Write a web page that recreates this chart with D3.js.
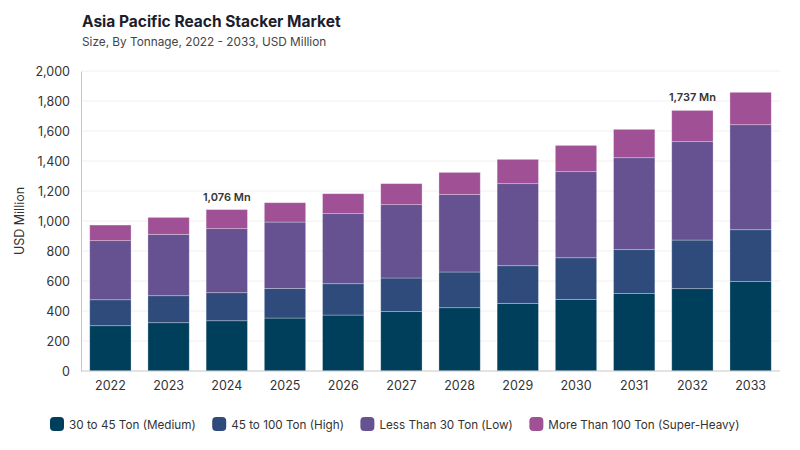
<!DOCTYPE html>
<html>
<head>
<meta charset="utf-8">
<script src="https://cdn.jsdelivr.net/npm/d3@7"></script>
<style>
	body { margin: 0; background: #fff; font-family: Inter, "Noto Sans", sans-serif; }
	svg text { font-family: Inter, "Noto Sans", sans-serif; }
</style>
</head>
<body>
<script>
const annees = ["2022", "2023", "2024", "2025", "2026", "2027", "2028", "2029", "2030", "2031", "2032", "2033"];
const series = ["30 to 45 Ton (Medium)", "45 to 100 Ton (High)", "Less Than 30 Ton (Low)", "More Than 100 Ton (Super-Heavy)"];
const medium = [302, 322, 335, 353, 373, 396, 422, 451, 476, 516, 549, 596];
const high = [173, 180, 187, 198, 209, 224, 238, 251, 279, 293, 324, 346];
const low = [394, 409, 427, 442, 467, 489, 516, 547, 574, 613, 656, 700];
const superHeavy = [104, 113, 127, 129, 133, 140, 148, 162, 175, 189, 208, 216];
const couleurs = ["#003f5c", "#2f4b7c", "#665191", "#a05195"];
const yTicks = [0, 200, 400, 600, 800, 1000, 1200, 1400, 1600, 1800, 2000];
const etiquettes = [{ annee: "2024", texte: "1,076 Mn" }, { annee: "2032", texte: "1,737 Mn" }];

const largeur = 800, hauteur = 450;
const marge = { gauche: 81, droite: 20, haut: 71, bas: 79 };

// table for the stack
const table = annees.map((a, i) => ({
	annee: a,
	[series[0]]: medium[i],
	[series[1]]: high[i],
	[series[2]]: low[i],
	[series[3]]: superHeavy[i]
}));

const svg = d3.select("body").append("svg")
	.attr("width", largeur)
	.attr("height", hauteur);

svg.append("text")
	.attr("x", 82).attr("y", 27)
	.text("Asia Pacific Reach Stacker Market")
	.style("font-size", "15.5px").style("font-weight", "700").attr("fill", "#1d1d2b");

svg.append("text")
	.attr("x", 82).attr("y", 46)
	.text("Size, By Tonnage, 2022 - 2033, USD Million")
	.style("font-size", "11.8px").attr("fill", "#444");

const x = d3.scaleBand()
	.domain(annees)
	.range([marge.gauche, 780])
	.paddingInner(0.29)
	.paddingOuter(0.15);

const y = d3.scaleLinear()
	.domain([0, 2000])
	.range([hauteur - marge.bas, marge.haut]);

// grid
svg.append("g")
	.selectAll("line")
	.data(yTicks.slice(1))
	.join("line")
	.attr("x1", marge.gauche).attr("x2", 780)
	.attr("y1", d => y(d)).attr("y2", d => y(d))
	.attr("stroke", "#f0f0f0");

const axeY = svg.append("g")
	.attr("transform", `translate(${marge.gauche},0)`)
	.call(d3.axisLeft(y).tickValues(yTicks).tickFormat(d3.format(",")).tickSize(0).tickPadding(11));
axeY.select(".domain").attr("stroke", "#c8c8c8");
axeY.selectAll("text").style("font-size", "12.5px").attr("fill", "#333");

svg.append("text")
	.attr("transform", `translate(24,${y(1000)}) rotate(-90)`)
	.attr("text-anchor", "middle")
	.text("USD Million")
	.style("font-size", "12.5px").attr("fill", "#333");

const stack = d3.stack().keys(series)(table);

svg.append("g")
	.selectAll("g")
	.data(stack)
	.join("g")
	.attr("fill", (d, i) => couleurs[i])
	.selectAll("rect")
	.data(d => d)
	.join("rect")
	.attr("x", d => x(d.data.annee))
	.attr("y", d => y(d[1]))
	.attr("width", x.bandwidth())
	.attr("height", d => y(d[0]) - y(d[1]))
	.attr("stroke", "#ffffff")
	.attr("stroke-opacity", 0.35)
	.attr("stroke-width", 0.8);

const axeX = svg.append("g")
	.attr("transform", `translate(0,${y(0)})`)
	.call(d3.axisBottom(x).tickSize(0).tickPadding(10));
axeX.select(".domain").attr("stroke", "#c8c8c8").attr("d", `M${marge.gauche},0H780`);
axeX.selectAll("text").style("font-size", "12.5px").attr("fill", "#333");

// total labels
svg.append("g")
	.selectAll("text")
	.data(etiquettes)
	.join("text")
	.attr("x", d => x(d.annee) + x.bandwidth() / 2)
	.attr("y", d => {
		const i = annees.indexOf(d.annee);
		return y(medium[i] + high[i] + low[i] + superHeavy[i]) - 9;
	})
	.attr("text-anchor", "middle")
	.text(d => d.texte)
	.style("font-size", "11px").style("font-weight", "600").attr("fill", "#333");

// legend, laid out from measured text widths
const leg = svg.append("g").attr("transform", "translate(0,417)");
let posX = 50;
series.forEach((s, i) => {
	const item = leg.append("g").attr("transform", `translate(${posX},0)`);
	item.append("rect")
		.attr("width", 14).attr("height", 14).attr("rx", 4)
		.attr("fill", couleurs[i]);
	const t = item.append("text")
		.attr("x", 19).attr("y", 11.5)
		.text(s)
		.style("font-size", "11.7px").attr("fill", "#333");
	posX += 19 + t.node().getComputedTextLength() + 16.5;
});
</script>
</body>
</html>
